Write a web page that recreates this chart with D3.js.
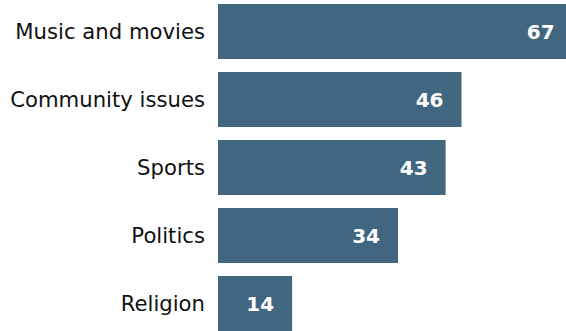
<!DOCTYPE html>
<html>
<head>
<meta charset="utf-8">
<script src="https://cdn.jsdelivr.net/npm/d3@7.9.0/dist/d3.min.js"></script>
<style>
  html, body { margin: 0; padding: 0; background: #fff; }
  svg { display: block; }
  text { font-family: "DejaVu Sans", Verdana, sans-serif; }
</style>
</head>
<body>
<svg id="chart" width="566" height="331"></svg>
<script>
const categories = ['Music and movies', 'Community issues', 'Sports', 'Politics', 'Religion'];
const values = [67, 46, 43, 34, 14];

const svg = d3.select('#chart');
const x0 = 218;

const x = d3.scaleLinear().domain([0, 67]).range([x0, 572.7]);
const y = d3.scaleBand().domain(categories).range([4, 331]).paddingInner(13 / 68).paddingOuter(0);

const data = categories.map((c, i) => ({ label: c, value: values[i] }));

const rows = svg.selectAll('g.row')
  .data(data)
  .join('g')
  .attr('class', 'row');

rows.append('rect')
  .attr('x', x(0))
  .attr('y', d => y(d.label))
  .attr('width', d => x(d.value) - x(0))
  .attr('height', y.bandwidth())
  .attr('fill', '#41667f');

rows.append('text')
  .attr('x', d => x(d.value) - 18)
  .attr('y', d => y(d.label) + y.bandwidth() / 2)
  .attr('dy', '0.36em')
  .attr('text-anchor', 'end')
  .attr('fill', '#fff')
  .attr('font-weight', 'bold')
  .attr('font-size', 20)
  .text(d => d.value);

rows.append('text')
  .attr('x', x0 - 13)
  .attr('y', d => y(d.label) + y.bandwidth() / 2)
  .attr('dy', '0.36em')
  .attr('text-anchor', 'end')
  .attr('fill', '#111')
  .attr('font-size', 21.2)
  .text(d => d.label);
</script>
</body>
</html>
